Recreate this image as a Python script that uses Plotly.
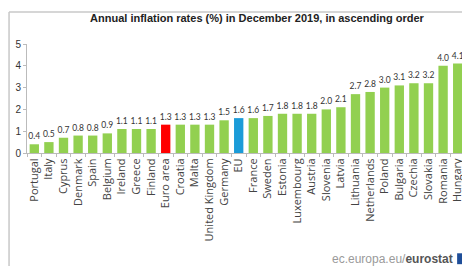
import plotly.graph_objects as go

countries = ["Portugal", "Italy", "Cyprus", "Denmark", "Spain", "Belgium", "Ireland", "Greece",
             "Finland", "Euro area", "Croatia", "Malta", "United Kingdom", "Germany", "EU",
             "France", "Sweden", "Estonia", "Luxembourg", "Austria", "Slovenia", "Latvia",
             "Lithuania", "Netherlands", "Poland", "Bulgaria", "Czechia", "Slovakia", "Romania", "Hungary"]
values = [0.4, 0.5, 0.7, 0.8, 0.8, 0.9, 1.1, 1.1, 1.1, 1.3, 1.3, 1.3, 1.3, 1.5, 1.6,
          1.6, 1.7, 1.8, 1.8, 1.8, 2.0, 2.1, 2.7, 2.8, 3.0, 3.1, 3.2, 3.2, 4.0, 4.1]

GREEN, RED, BLUE = "#92D050", "#FF0000", "#1B9BD8"
colors = [RED if c == "Euro area" else BLUE if c == "EU" else GREEN for c in countries]

fig = go.Figure(go.Bar(
    x=countries, y=values, marker=dict(color=colors, line=dict(width=0)),
    text=[f"{v:.1f}" for v in values], textposition="outside",
    textfont=dict(size=8.5, color="#333333", family="Lato, Arial"),
    constraintext="none", textangle=0,
    cliponaxis=False,
))

fig.update_layout(
    width=462, height=258,
    margin=dict(l=19, r=5, t=36, b=113),
    paper_bgcolor="white", plot_bgcolor="white",
    bargap=0.36, showlegend=False,
    font=dict(family="Liberation Sans, Arial", color="#333333"),
    title=dict(text="<b>Annual inflation rates (%) in December 2019, in ascending order</b>",
               x=0.525, xanchor="center", xref="paper", y=0.962, yanchor="middle",
               font=dict(size=11, color="#222222", family="Liberation Sans, Arial")),
    xaxis=dict(tickangle=-90, tickfont=dict(size=11, color="#444444", family="Open Sans, Arial"),
               showline=True, linecolor="#BBBBBB", linewidth=1,
               ticks="outside", ticklen=3, tickcolor="#BBBBBB", tickson="boundaries"),
    yaxis=dict(range=[0, 5], dtick=1, showgrid=False, zeroline=False,
               showline=True, linecolor="#BBBBBB", linewidth=1,
               ticks="outside", ticklen=3, tickcolor="#BBBBBB",
               tickfont=dict(size=10, color="#333333", family="Liberation Sans, Arial")),
    shapes=[
        dict(type="line", xref="paper", yref="paper", x0=-0.041, x1=1.005, y0=1.294, y1=1.294,
             line=dict(color="#C8C8C8", width=1.5)),
        dict(type="line", xref="paper", yref="paper", x0=-0.041, x1=-0.041, y0=1.294, y1=-1.05,
             line=dict(color="#C8C8C8", width=1.5)),
        dict(type="rect", xref="paper", yref="paper", x0=0.982, x1=1.006, y0=-1.02, y1=-0.92,
             fillcolor="#1F4E99", line=dict(width=0)),
    ],
    annotations=[
        dict(text="<span style='color:#9a9a9a'>ec.europa.eu/</span><b>eurostat</b>",
             xref="paper", yref="paper", x=0.978, y=-0.97, xanchor="right", yanchor="middle",
             showarrow=False, font=dict(size=12, color="#555555", family="Liberation Sans, Arial")),
    ],
)

fig.write_html("out.html")
